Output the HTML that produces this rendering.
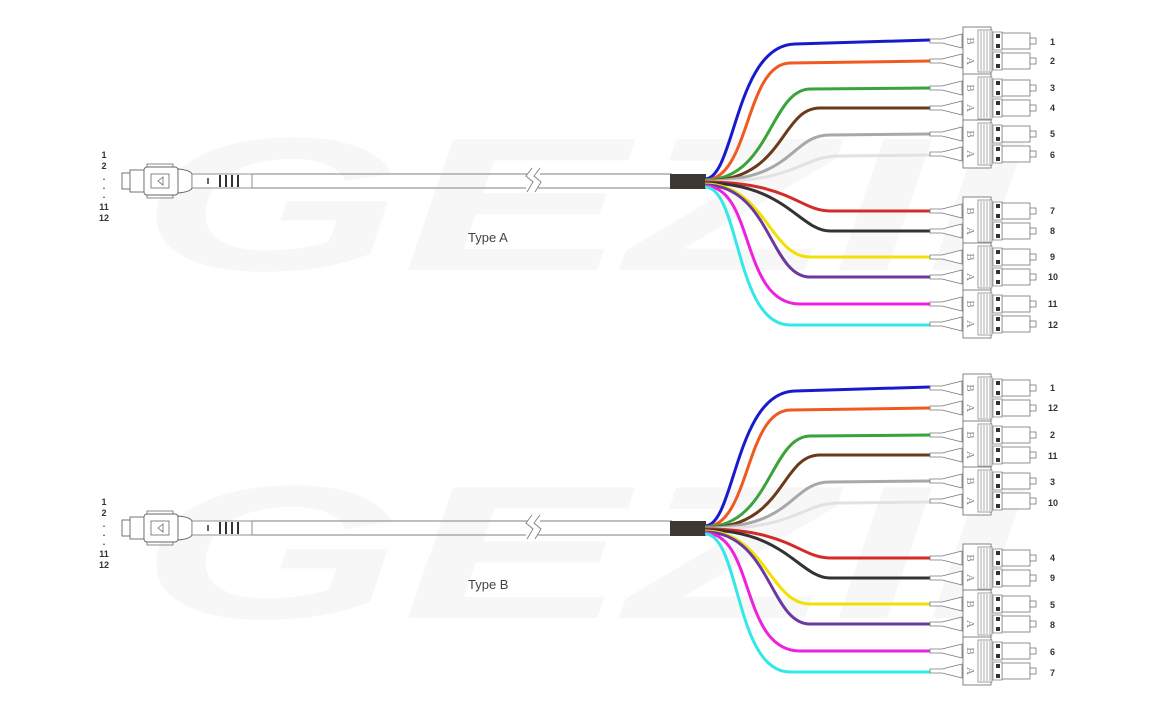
<!DOCTYPE html>
<html><head><meta charset="utf-8"><style>
html,body{margin:0;padding:0;background:#fff;}
svg{display:block;font-family:"Liberation Sans",sans-serif;}
</style></head><body>
<svg width="1161" height="707" viewBox="0 0 1161 707" xmlns="http://www.w3.org/2000/svg">
<defs>
<g id="boot">
<path d="M930,-2 L942,-2 L962,-7 L962,7 L942,2 L930,2 Z" fill="#fff" stroke="#777" stroke-width="0.8"/>
<rect x="1002" y="-8" width="28" height="16" fill="#fff" stroke="#777" stroke-width="0.8"/>
<rect x="1030" y="-3" width="6" height="6" fill="#fff" stroke="#777" stroke-width="0.8"/>
<rect x="993" y="-9" width="9" height="18" fill="#fff" stroke="#777" stroke-width="0.7"/>
<rect x="996" y="-7" width="4" height="4" fill="#333"/>
<rect x="996" y="3" width="4" height="4" fill="#333"/>
</g>
<g id="duplex">
<use href="#boot"/>
<use href="#boot" y="20"/>
<rect x="963" y="-14" width="28" height="48" fill="#fff" stroke="#777" stroke-width="0.9"/>
<rect x="978" y="-11" width="14" height="42" fill="#fff" stroke="#777" stroke-width="0.7"/>
<path d="M981,-10V30M984,-10V30M987,-10V30M990,-10V30" stroke="#888" stroke-width="0.7"/>
<text transform="translate(967,0) rotate(90)" text-anchor="middle" font-family="Liberation Serif,serif" font-size="11" fill="#888">B</text>
<text transform="translate(967,20) rotate(90)" text-anchor="middle" font-family="Liberation Serif,serif" font-size="11" fill="#888">A</text>
</g>
<g id="assembly">
<rect x="122" y="173" width="10" height="16" fill="#fff" stroke="#666" stroke-width="0.9"/>
<rect x="130" y="170" width="14" height="22" fill="#fff" stroke="#666" stroke-width="0.9"/>
<rect x="144" y="167" width="34" height="28" rx="3" fill="#fff" stroke="#666" stroke-width="0.9"/>
<rect x="151" y="174" width="18" height="14" fill="#fff" stroke="#666" stroke-width="0.8"/>
<path d="M147,167v-3h26v3M147,195v3h26v-3" fill="none" stroke="#666" stroke-width="0.8"/>
<path d="M163,177l-5,4l5,4z" fill="none" stroke="#666" stroke-width="0.8"/>
<path d="M178,169 Q190,170 192,174 L192,188 Q190,192 178,193 Z" fill="#fff" stroke="#666" stroke-width="0.9"/>
<rect x="192" y="174" width="60" height="14" fill="#fff" stroke="#777" stroke-width="0.8"/>
<path d="M208,178v6" stroke="#333" stroke-width="1.5"/>
<path d="M220,175v12M226,175v12M232,175v12M238,175v12" stroke="#333" stroke-width="2"/>
<path d="M252,174H528M252,188H526M540,174H672M538,188H672" stroke="#999" stroke-width="1.2" fill="none"/>
<path d="M532,168l-6,8l7,6l-6,10M540,168l-6,8l7,6l-6,10" stroke="#888" stroke-width="1" fill="none"/>
<rect x="670" y="174" width="36" height="15" fill="#3d3833"/>
<g fill="none" stroke-width="3">
<path d="M705,179 C735,179 735,45 795,44 L930,40" stroke="#1a1acc"/>
<path d="M705,180 C750,180 745,64 790,63 L930,61" stroke="#f05a22"/>
<path d="M705,180 C770,180 770,90 810,89 L930,88" stroke="#3aa33a"/>
<path d="M705,181 C785,181 780,108 820,108 L930,108" stroke="#6b3a1a"/>
<path d="M705,181 C795,181 790,135 830,135 L930,134" stroke="#a8a8a8"/>
<path d="M705,182 C800,182 800,156 840,156 L930,155" stroke="#e2e2e2"/>
<path d="M705,182 C790,182 800,211 830,211 L930,211" stroke="#d42a2a"/>
<path d="M705,183 C785,183 800,231 830,231 L930,231" stroke="#333"/>
<path d="M705,184 C765,184 770,257 810,257 L930,257" stroke="#f2e000"/>
<path d="M705,185 C770,185 770,277 810,277 L930,277" stroke="#6a3aa0"/>
<path d="M705,186 C755,186 740,304 800,304 L930,304" stroke="#ee22dd"/>
<path d="M705,187 C740,187 735,325 790,325 L930,325" stroke="#33e8e8"/>
</g>
<use href="#duplex" y="41"/>
<use href="#duplex" y="88"/>
<use href="#duplex" y="134"/>
<use href="#duplex" y="211"/>
<use href="#duplex" y="257"/>
<use href="#duplex" y="304"/>
<g font-size="9" font-weight="bold" fill="#333" text-anchor="middle">
<text x="104" y="158">1</text><text x="104" y="169">2</text>
<text x="104" y="180">.</text><text x="104" y="189">.</text><text x="104" y="198">.</text>
<text x="104" y="210">11</text><text x="104" y="221">12</text>
</g>
</g>
</defs>
<g fill="#f7f7f7" font-size="190" font-weight="bold" font-style="italic">
<text x="140" y="270" textLength="880" lengthAdjust="spacingAndGlyphs">GEZII</text>
<text x="140" y="618" textLength="880" lengthAdjust="spacingAndGlyphs">GEZII</text>
</g>
<use href="#assembly"/>
<use href="#assembly" y="347"/>
<text x="468" y="242" font-size="13" fill="#444">Type A</text>
<text x="468" y="589" font-size="13" fill="#444">Type B</text>
<g font-size="9" font-weight="bold" fill="#333">
<text x="1050" y="45">1</text><text x="1050" y="64">2</text><text x="1050" y="91">3</text><text x="1050" y="111">4</text>
<text x="1050" y="137">5</text><text x="1050" y="158">6</text><text x="1050" y="214">7</text><text x="1050" y="234">8</text>
<text x="1050" y="260">9</text><text x="1048" y="280">10</text><text x="1048" y="307">11</text><text x="1048" y="328">12</text>
<text x="1050" y="391">1</text><text x="1048" y="411">12</text><text x="1050" y="438">2</text><text x="1048" y="459">11</text>
<text x="1050" y="485">3</text><text x="1048" y="506">10</text><text x="1050" y="561">4</text><text x="1050" y="581">9</text>
<text x="1050" y="608">5</text><text x="1050" y="628">8</text><text x="1050" y="655">6</text><text x="1050" y="676">7</text>
</g>
</svg>
</body></html>
